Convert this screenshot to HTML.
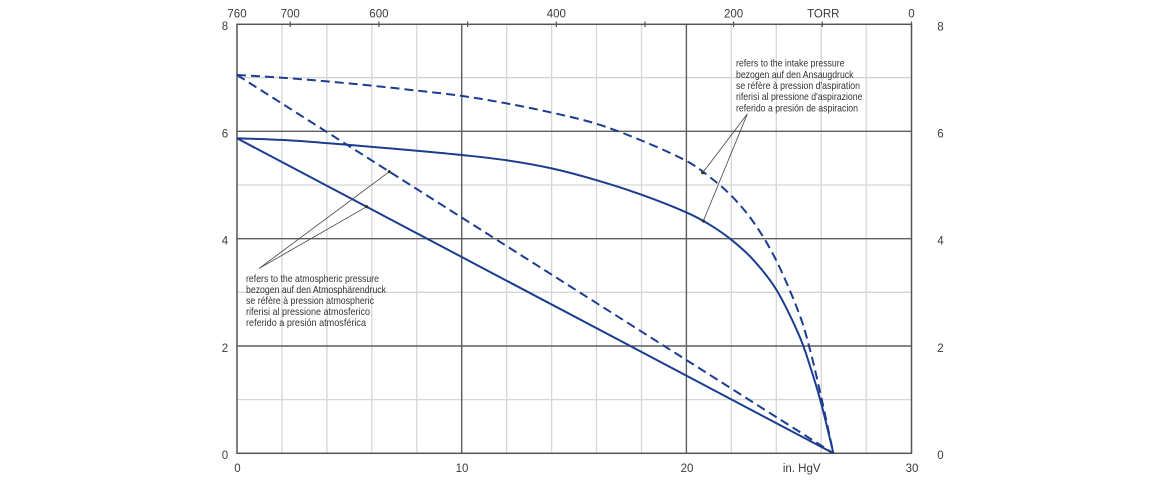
<!DOCTYPE html>
<html>
<head>
<meta charset="utf-8">
<style>
html,body{margin:0;padding:0;background:#fff;}
svg{display:block;}
text{font-family:"Liberation Sans",Arial,sans-serif;}
</style>
</head>
<body>
<svg width="1160" height="480" viewBox="0 0 1160 480" xmlns="http://www.w3.org/2000/svg">
<rect width="1160" height="480" fill="#fff"/>
<!-- minor vertical grid -->
<g stroke="#d6d6d6" stroke-width="1.3">
<line x1="281.9" y1="24.3" x2="281.9" y2="453.3"/>
<line x1="326.9" y1="24.3" x2="326.9" y2="453.3"/>
<line x1="371.8" y1="24.3" x2="371.8" y2="453.3"/>
<line x1="416.8" y1="24.3" x2="416.8" y2="453.3"/>
<line x1="506.6" y1="24.3" x2="506.6" y2="453.3"/>
<line x1="551.6" y1="24.3" x2="551.6" y2="453.3"/>
<line x1="596.5" y1="24.3" x2="596.5" y2="453.3"/>
<line x1="641.5" y1="24.3" x2="641.5" y2="453.3"/>
<line x1="731.3" y1="24.3" x2="731.3" y2="453.3"/>
<line x1="776.3" y1="24.3" x2="776.3" y2="453.3"/>
<line x1="821.2" y1="24.3" x2="821.2" y2="453.3"/>
<line x1="866.2" y1="24.3" x2="866.2" y2="453.3"/>
<!-- minor horizontal -->
<line x1="237" y1="77.7" x2="911.5" y2="77.7"/>
<line x1="237" y1="185.0" x2="911.5" y2="185.0"/>
<line x1="237" y1="292.3" x2="911.5" y2="292.3"/>
<line x1="237" y1="399.6" x2="911.5" y2="399.6"/>
</g>
<!-- major grid -->
<g stroke="#5e5e5e" stroke-width="1.4">
<line x1="461.7" y1="24.3" x2="461.7" y2="453.3"/>
<line x1="686.4" y1="24.3" x2="686.4" y2="453.3"/>
<line x1="237" y1="131.3" x2="911.5" y2="131.3"/>
<line x1="237" y1="238.7" x2="911.5" y2="238.7"/>
<line x1="237" y1="346.0" x2="911.5" y2="346.0"/>
</g>
<!-- axes -->
<g stroke="#555" stroke-width="1.5" fill="none">
<rect x="237" y="24.3" width="674.5" height="429"/>
</g>
<!-- top ticks -->
<g stroke="#555" stroke-width="1.2">
<line x1="290.2" y1="21.5" x2="290.2" y2="27"/>
<line x1="378.9" y1="21.5" x2="378.9" y2="27"/>
<line x1="467.6" y1="21.5" x2="467.6" y2="27"/>
<line x1="556.3" y1="21.5" x2="556.3" y2="27"/>
<line x1="645.0" y1="21.5" x2="645.0" y2="27"/>
<line x1="733.6" y1="21.5" x2="733.6" y2="27"/>
<line x1="822.3" y1="21.5" x2="822.3" y2="27"/>
<line x1="911.5" y1="21.5" x2="911.5" y2="27"/>
</g>
<!-- axis labels -->
<g fill="#3a3a3a" font-size="11.5" text-anchor="middle">
<text x="237" y="17.5">760</text>
<text x="290.2" y="17.5">700</text>
<text x="378.9" y="17.5">600</text>
<text x="556.3" y="17.5">400</text>
<text x="733.6" y="17.5">200</text>
<text x="823.3" y="17.5">TORR</text>
<text x="911.5" y="17.5">0</text>

<text x="225" y="30">8</text>
<text x="225" y="137.5">6</text>
<text x="225" y="244.5">4</text>
<text x="225" y="352">2</text>
<text x="225" y="459">0</text>

<text x="940.5" y="30.5">8</text>
<text x="940.5" y="137.5">6</text>
<text x="940.5" y="244.5">4</text>
<text x="940.5" y="352">2</text>
<text x="940.5" y="459">0</text>

<text x="237.5" y="472">0</text>
<text x="462" y="472">10</text>
<text x="687" y="472">20</text>
<text x="801.7" y="472">in. HgV</text>
<text x="912" y="472">30</text>
</g>
<!-- series -->
<g fill="none" stroke="#1b3d8f" stroke-width="2" stroke-linejoin="round" stroke-linecap="butt">
<line x1="237" y1="138.3" x2="833.4" y2="453.3"/>
<polyline class="smooth" points="237,138.3 281.9,139.9 326.9,143.1 371.8,146.9 416.8,150.7 461.7,155.0 506.6,160.3 551.6,168.4 596.5,180.2 641.5,194.7 686.4,212.4 708.9,224.2 731.3,239.7 753.8,260.4 776.3,289.6 798.8,334.6 810.0,366.0 821.2,403.5 833.4,453.3"/>
<g stroke-dasharray="9 5">
<line x1="237" y1="75" x2="833.4" y2="453.3"/>
<polyline class="smooth" points="237,75 281.9,77.7 326.9,81.4 371.8,85.7 416.8,90.6 461.7,95.9 506.6,103.4 551.6,112.6 596.5,123.8 641.5,140.5 686.4,160.9 708.9,176.4 731.3,195.7 753.8,222.6 776.3,260.5 798.8,312.7 810.0,349.7 821.2,397.0 833.4,453.3"/>
</g>
</g>
<!-- leaders -->
<g stroke="#444" stroke-width="0.8">
<line x1="259.3" y1="268.3" x2="389.3" y2="171.7"/>
<line x1="259.3" y1="268.3" x2="366.7" y2="206.7"/>
<line x1="747.3" y1="114" x2="702.7" y2="172.7"/>
<line x1="747.3" y1="114" x2="703.3" y2="221"/>
</g>
<g fill="#333">
<circle cx="389.3" cy="171.7" r="1.6"/>
<circle cx="366.7" cy="206.7" r="1.6"/>
<circle cx="702.7" cy="172.7" r="1.6"/>
<circle cx="703.3" cy="221" r="1.6"/>
</g>
<!-- annotation text -->
<g fill="#333" font-size="10.5">
<text x="246" y="282" textLength="133" lengthAdjust="spacingAndGlyphs">refers to the atmospheric pressure</text>
<text x="246" y="293" textLength="140" lengthAdjust="spacingAndGlyphs">bezogen auf den Atmosphärendruck</text>
<text x="246" y="304" textLength="128" lengthAdjust="spacingAndGlyphs">se réfère à pression atmospheric</text>
<text x="246" y="315" textLength="124" lengthAdjust="spacingAndGlyphs">riferisi al pressione atmosferico</text>
<text x="246" y="326" textLength="120" lengthAdjust="spacingAndGlyphs">referido a presión atmosférica</text>

<text x="736" y="66.5" textLength="108.5" lengthAdjust="spacingAndGlyphs">refers to the intake pressure</text>
<text x="736" y="77.8" textLength="117.5" lengthAdjust="spacingAndGlyphs">bezogen auf den Ansaugdruck</text>
<text x="736" y="89" textLength="124" lengthAdjust="spacingAndGlyphs">se réfère à pression d'aspiration</text>
<text x="736" y="100.2" textLength="126.5" lengthAdjust="spacingAndGlyphs">riferisi al pressione d'aspirazione</text>
<text x="736" y="111.5" textLength="122" lengthAdjust="spacingAndGlyphs">referido a presión de aspiracion</text>
</g>
</svg>
<script>
(function(){
  var NS="http://www.w3.org/2000/svg";
  var pls=document.querySelectorAll("polyline.smooth");
  for(var k=0;k<pls.length;k++){
    var pl=pls[k];
    var raw=pl.getAttribute("points").trim().split(/\s+/);
    var p=raw.map(function(s){var a=s.split(",");return [parseFloat(a[0]),parseFloat(a[1])];});
    var n=p.length;
    var d="M"+p[0][0]+","+p[0][1];
    for(var i=0;i<n-1;i++){
      var p0=p[i>0?i-1:i], p1=p[i], p2=p[i+1], p3=p[i+2<n?i+2:i+1];
      var c1x=p1[0]+(p2[0]-p0[0])/6, c1y=p1[1]+(p2[1]-p0[1])/6;
      var c2x=p2[0]-(p3[0]-p1[0])/6, c2y=p2[1]-(p3[1]-p1[1])/6;
      d+=" C"+c1x.toFixed(2)+","+c1y.toFixed(2)+" "+c2x.toFixed(2)+","+c2y.toFixed(2)+" "+p2[0]+","+p2[1];
    }
    var path=document.createElementNS(NS,"path");
    path.setAttribute("d",d);
    pl.parentNode.replaceChild(path,pl);
  }
})();
</script>
</body>
</html>
